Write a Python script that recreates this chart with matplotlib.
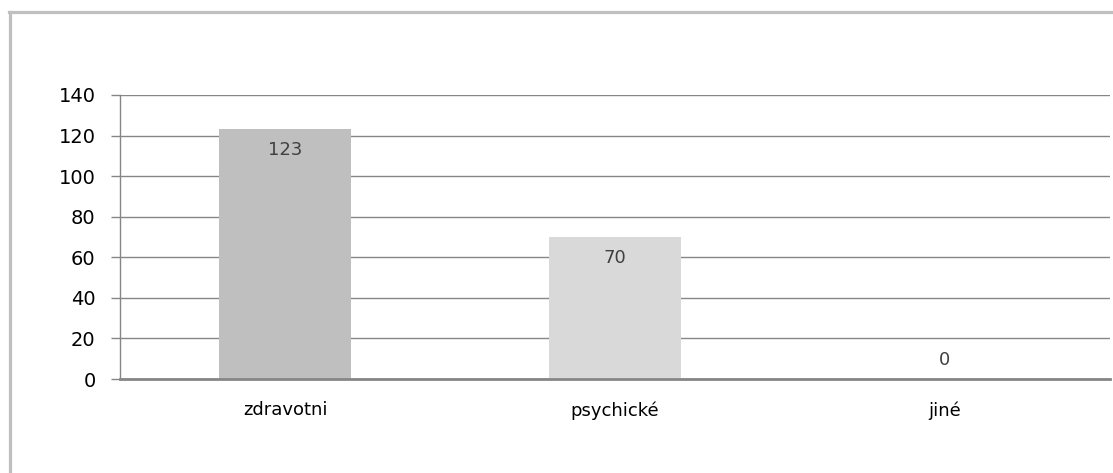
import matplotlib.pyplot as plt
from matplotlib.lines import Line2D

categories = ['zdravotni', 'psychické', 'jiné']
values = [123, 70, 0]
bar_colors = ['#bfbfbf', '#d9d9d9', '#d9d9d9']
y_ticks = [0, 20, 40, 60, 80, 100, 120, 140]

W, H = 1113, 473
fig = plt.figure(figsize=(W / 100, H / 100), dpi=100)
ax = fig.add_axes([120 / W, 94 / H, 990 / W, 284 / H])

x = range(len(categories))
bars = ax.bar(x, values, width=0.4, color=bar_colors, zorder=2)

ax.set_xlim(-0.5, 2.5)
ax.set_ylim(0, 140)
ax.set_yticks(y_ticks)
ax.set_xticks(list(x))
ax.set_xticklabels(categories)

grid_col = '#868686'
ax.yaxis.grid(True, color=grid_col, linewidth=1, zorder=1)
ax.set_axisbelow(True)
for s in ['top', 'right']:
    ax.spines[s].set_visible(False)
ax.spines['left'].set_color(grid_col)
ax.spines['left'].set_linewidth(1)
ax.spines['bottom'].set_color(grid_col)
ax.spines['bottom'].set_linewidth(2)
ax.spines['bottom'].set_zorder(3)

ax.tick_params(axis='y', length=6.5, width=1, color=grid_col, pad=11, labelsize=14)
ax.tick_params(axis='x', length=0, pad=16, labelsize=13)

# data labels
for b, v in zip(bars, values):
    off = -15 if v > 0 else 14
    ax.annotate(str(v), (b.get_x() + b.get_width() / 2, v), xytext=(0, off),
                textcoords='offset points', ha='center', va='center',
                fontsize=13, color='#404040')

# outer chart frame (only top and left visible)
frame_col = '#bfbfbf'
fig.add_artist(Line2D([9.5 / W, 9.5 / W], [0, 1 - 12 / H], color=frame_col,
                      linewidth=2.3, transform=fig.transFigure))
fig.add_artist(Line2D([8.5 / W, 1], [1 - 12 / H, 1 - 12 / H], color=frame_col,
                      linewidth=2.3, transform=fig.transFigure))

fig.savefig('out.png', dpi=100)
